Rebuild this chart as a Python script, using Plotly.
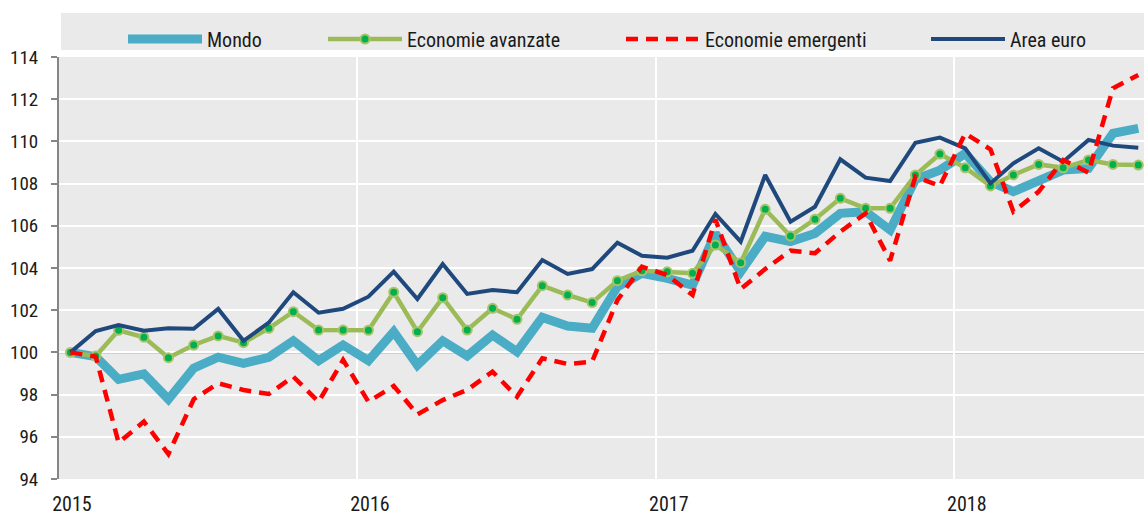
import plotly.graph_objects as go
import pandas as pd

months = pd.date_range("2015-01-01", periods=44, freq="MS") + pd.Timedelta(days=14)
year_labels = ["2015", "2016", "2017", "2018"]

mondo = [100.0, 99.8, 98.72, 98.98, 97.78, 99.25, 99.77, 99.48, 99.77, 100.55, 99.61, 100.35,
         99.61, 100.98, 99.4, 100.55, 99.83, 100.82, 100.03, 101.66, 101.25, 101.14, 103.11, 103.75,
         103.51, 103.19, 105.64, 103.82, 105.5, 105.25, 105.64, 106.59, 106.67, 105.8, 108.2, 108.64,
         109.43, 108.09, 107.62, 108.17, 108.64, 108.72, 110.38, 110.62]
avanzate = [100.0, 99.83, 101.05, 100.72, 99.75, 100.35, 100.78, 100.46, 101.14, 101.93, 101.06, 101.06,
            101.05, 102.85, 100.98, 102.59, 101.06, 102.09, 101.57, 103.16, 102.72, 102.36, 103.4, 103.87,
            103.82, 103.75, 105.09, 104.25, 106.78, 105.52, 106.31, 107.3, 106.83, 106.83, 108.41, 109.4,
            108.75, 107.89, 108.41, 108.91, 108.75, 109.12, 108.91, 108.88]
emergenti = [100.0, 99.8, 95.72, 96.72, 95.18, 97.78, 98.54, 98.22, 98.03, 98.85, 97.66, 99.64,
             97.66, 98.41, 97.06, 97.74, 98.22, 99.09, 97.9, 99.72, 99.45, 99.56, 102.48, 104.06,
             103.67, 102.72, 106.3, 103.0, 103.95, 104.82, 104.7, 105.72, 106.59, 104.35, 108.33, 107.89,
             110.38, 109.62, 106.67, 107.62, 109.12, 108.52, 112.52, 113.15]
area_euro = [100.0, 101.01, 101.3, 101.03, 101.14, 101.12, 102.06, 100.55, 101.41, 102.85, 101.88, 102.07,
             102.64, 103.83, 102.53, 104.19, 102.77, 102.96, 102.85, 104.38, 103.72, 103.95, 105.2, 104.58,
             104.49, 104.82, 106.56, 105.25, 108.41, 106.19, 106.9, 109.15, 108.28, 108.12, 109.94, 110.18,
             109.67, 108.01, 108.96, 109.67, 109.04, 110.07, 109.8, 109.7]

FONT = "Liberation Sans Narrow, Arial Narrow, Roboto Condensed, Liberation Sans, sans-serif"
BG = "#EAEAEA"

fig = go.Figure()
fig.add_trace(go.Scatter(x=months, y=mondo, name="Mondo", mode="lines",
                         line=dict(color="#4BACC6", width=9), legend="legend"))
fig.add_trace(go.Scatter(x=months, y=avanzate, name="Economie avanzate", mode="lines+markers",
                         line=dict(color="#9BBB59", width=4.5),
                         marker=dict(color="#00B050", size=9, line=dict(color="#A6C465", width=2)),
                         legend="legend2"))
fig.add_trace(go.Scatter(x=months, y=area_euro, name="Area euro", mode="lines",
                         line=dict(color="#1F497D", width=4), legend="legend4"))
fig.add_trace(go.Scatter(x=months, y=emergenti, name="Economie emergenti", mode="lines",
                         line=dict(color="#FF0000", width=4.5, dash="12px,8px"), legend="legend3"))

ly = 1 + 18 / 422
def leg(x):
    return dict(x=x, y=ly, xanchor="left", yanchor="middle", orientation="h",
                bgcolor="rgba(0,0,0,0)", font=dict(family=FONT, size=20, color="#1a1a1a"),
                itemwidth=74, borderwidth=0, visible=True)

W = 1085
fig.update_layout(
    width=1144, height=516,
    margin=dict(l=59, r=0, t=57, b=37, autoexpand=False),
    paper_bgcolor="white", plot_bgcolor=BG,
    font=dict(family=FONT, size=20, color="#1a1a1a"),
    showlegend=True, hovermode=False,
    legend=leg((123 - 59) / W),
    legend2=leg((323 - 59) / W),
    legend3=leg((621 - 59) / W),
    legend4=leg((926 - 59) / W),
    xaxis=dict(type="date", range=["2015-01-01", "2018-08-22"],
               tickvals=[pd.Timestamp(f"{y}-01-01") for y in year_labels], ticktext=year_labels,
               showgrid=True, gridcolor="white", gridwidth=2, ticks="", showline=False,
               ticklabelshift=13, ticklabelstandoff=11, zeroline=False),
    yaxis=dict(range=[94, 114], dtick=2, showgrid=True, gridcolor="white", gridwidth=2,
               ticks="outside", ticklen=6, tickcolor="#868686", tickwidth=1.5,
               showline=True, linecolor="#868686", linewidth=2, zeroline=False,
               ticklabelstandoff=9, tickfont=dict(size=19)),
    shapes=[
        dict(type="rect", xref="paper", yref="paper", x0=(61 - 59) / W, x1=1.0,
             y0=1 + 7 / 422, y1=1 + 44 / 422, fillcolor=BG, line=dict(width=0), layer="below"),
        dict(type="line", xref="paper", yref="y", x0=0, x1=1, y0=100, y1=100,
             line=dict(color="#7F7F7F", width=1.5), layer="below"),
    ],
)

fig.write_html("out.html", config={"displayModeBar": False},
               post_script="document.body.style.margin='0px';document.body.style.overflow='hidden';")
